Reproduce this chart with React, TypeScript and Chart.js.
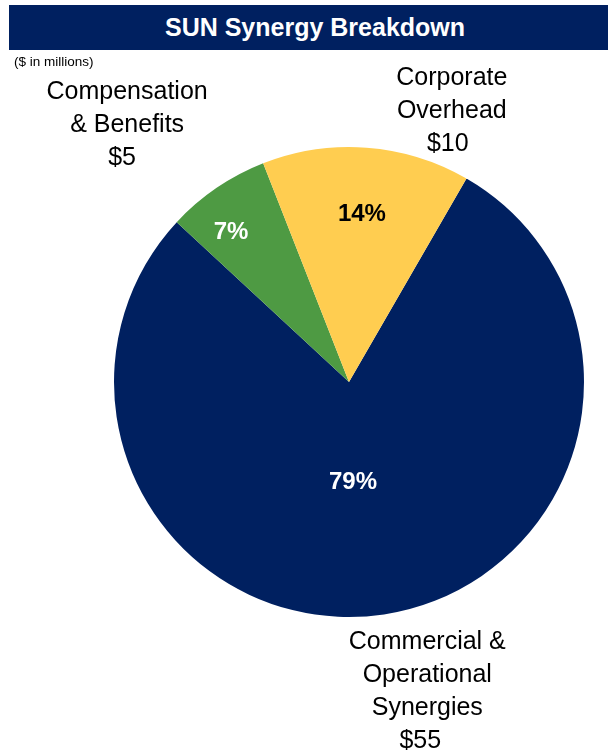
import React, { useEffect, useRef } from "react";
import { Chart, registerables } from "chart.js";

Chart.register(...registerables);

const categories = ["Commercial & Operational Synergies", "Compensation & Benefits", "Corporate Overhead"];
const labelLines = [
  ["Commercial &", "Operational", "Synergies"],
  ["Compensation", "& Benefits"],
  ["Corporate", "Overhead"],
];
const values = [55, 5, 10];
const colors = ["#002060", "#4E9A43", "#FFCD50"];
const pctColors = ["#FFFFFF", "#FFFFFF", "#000000"];

// placement of annotations relative to the pie (angle clockwise from top, distance as fraction of radius)
const outerPlacement = [
  { angle: 165.8, dist: 1.358, valueShift: -7 },
  { angle: -40.8, dist: 1.445, valueShift: -5 },
  { angle: 20.8, dist: 1.232, valueShift: -4 },
];
const innerPlacement = [
  { angle: 177.7, dist: 0.426 },
  { angle: -38.2, dist: 0.812 },
  { angle: 4.4, dist: 0.717 },
];

const FONT = "'Liberation Sans', Arial, sans-serif";

const labelPlugin = {
  id: "sliceLabels",
  afterDatasetsDraw(chart: any) {
    const meta = chart.getDatasetMeta(0);
    const ctx = chart.ctx;
    const data = chart.data.datasets[0].data as number[];
    const total = data.reduce((a: number, b: number) => a + b, 0);
    ctx.save();
    ctx.textAlign = "center";
    ctx.textBaseline = "middle";
    meta.data.forEach((arc: any, i: number) => {
      const cx = arc.x;
      const cy = arc.y;
      const r = arc.outerRadius;
      // inner percentage
      const ip = innerPlacement[i];
      const ia = (ip.angle * Math.PI) / 180;
      ctx.font = `bold 24px ${FONT}`;
      ctx.fillStyle = pctColors[i];
      ctx.fillText(
        `${Math.round((data[i] / total) * 100)}%`,
        cx + Math.sin(ia) * r * ip.dist,
        cy - Math.cos(ia) * r * ip.dist
      );
      // outer label
      const op = outerPlacement[i];
      const oa = (op.angle * Math.PI) / 180;
      const ox = cx + Math.sin(oa) * r * op.dist;
      const oy = cy - Math.cos(oa) * r * op.dist;
      const lines = [...labelLines[i], `$${data[i]}`];
      const lh = 33;
      ctx.font = `25px ${FONT}`;
      ctx.fillStyle = "#000000";
      lines.forEach((ln, k) => {
        const shift = k === lines.length - 1 ? op.valueShift : 0;
        ctx.fillText(ln, ox + shift, oy + (k - (lines.length - 1) / 2) * lh);
      });
    });
    ctx.restore();
  },
};

export default function App() {
  const ref = useRef<HTMLCanvasElement>(null);
  useEffect(() => {
    if (!ref.current) return;
    const chart = new Chart(ref.current, {
      type: "pie",
      data: {
        labels: categories,
        datasets: [
          {
            data: values,
            backgroundColor: colors,
            borderWidth: 0,
          },
        ],
      },
      options: {
        animation: false,
        responsive: false,
        rotation: 30,
        layout: { padding: { left: 114, right: 24, top: 147, bottom: 134 } },
        plugins: {
          legend: { display: false },
          tooltip: { enabled: false },
          title: { display: false },
        },
      },
      plugins: [labelPlugin],
    });
    return () => chart.destroy();
  }, []);

  return (
    <div style={{ position: "fixed", left: 0, top: 0, width: 608, height: 751, background: "#fff", overflow: "hidden" }}>
      <canvas ref={ref} width={608} height={751} style={{ position: "absolute", left: 0, top: 0, width: 608, height: 751 }} />
      <div
        style={{
          position: "absolute",
          left: 9,
          top: 5,
          width: 612,
          height: 45,
          background: "#002060",
          color: "#fff",
          fontFamily: FONT,
          fontWeight: "bold",
          fontSize: 25,
          lineHeight: "45px",
          textAlign: "center",
        }}
      >
        SUN Synergy Breakdown
      </div>
      <div
        style={{
          position: "absolute",
          left: 14,
          top: 54,
          fontFamily: FONT,
          fontSize: 13.5,
          lineHeight: "16px",
          color: "#000",
        }}
      >
        ($ in millions)
      </div>
    </div>
  );
}
